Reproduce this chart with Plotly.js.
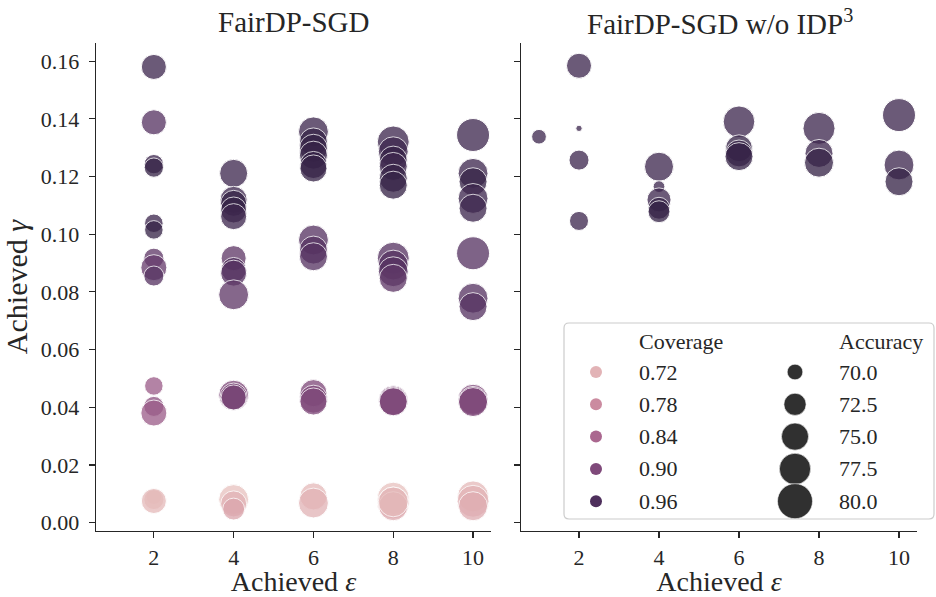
<!DOCTYPE html>
<html><head><meta charset="utf-8">
<script src="https://cdn.plot.ly/plotly-3.0.1.min.js"></script>
<style>html,body{margin:0;padding:0;background:#fff}#chart{width:936px;height:597px}</style>
</head><body><div id="chart"></div>
<script>
// ---- data: left panel (FairDP-SGD) ----
const leftEps = [2,2,2,2,2,2,2,2,2,2,2,2,2,2,2,
  4,4,4,4,4,4,4,4,4,4,4,4,4,4,4,
  6,6,6,6,6,6,6,6,6,6,6,6,6,6,
  8,8,8,8,8,8,8,8,8,8,8,8,8,8,8,8,8,
  10,10,10,10,10,10,10,10,10,10,10,10,10,10];
const leftGamma = [0.158,0.1388,0.1243,0.1231,0.1038,0.1015,0.0917,0.0884,0.0855,0.0474,0.0403,0.038,0.0090,0.0080,0.0075,
  0.1211,0.1119,0.1107,0.1084,0.1061,0.0917,0.0876,0.0865,0.079,0.0442,0.0437,0.0434,0.0080,0.0065,0.0047,
  0.1355,0.132,0.1298,0.1274,0.124,0.1228,0.098,0.0945,0.0922,0.0449,0.0428,0.0420,0.0091,0.0068,
  0.132,0.1286,0.1257,0.1235,0.1194,0.117,0.0917,0.0893,0.087,0.0847,0.0424,0.0421,0.0419,0.0085,0.0068,0.0057,0.0072,
  0.1344,0.1211,0.1182,0.1124,0.109,0.0934,0.0778,0.0749,0.0428,0.0422,0.0418,0.0091,0.0074,0.0057];
const leftCoverage = [0.98,0.95,0.98,0.99,0.98,0.99,0.94,0.93,0.95,0.86,0.88,0.86,0.70,0.70,0.71,
  0.98,0.98,0.99,0.99,0.98,0.94,0.96,0.95,0.94,0.90,0.91,0.91,0.70,0.72,0.74,
  0.98,0.99,0.99,0.99,0.99,0.99,0.95,0.95,0.95,0.90,0.90,0.90,0.71,0.72,
  0.98,0.98,0.99,0.98,0.99,0.99,0.95,0.95,0.95,0.94,0.90,0.90,0.90,0.70,0.72,0.73,0.71,
  0.98,0.98,0.99,0.98,0.98,0.95,0.95,0.95,0.90,0.90,0.90,0.71,0.72,0.73];
const leftAccuracy = [73.9,73.9,71.3,71.3,71.0,71.0,71.6,74.4,71.6,71.0,71.6,74.4,70.0,71.6,73.9,
  75.5,75.0,74.4,74.4,74.4,73.9,73.9,74.4,76.6,76.6,75.0,73.9,76.6,74.4,72.4,
  76.6,75.5,75.5,75.5,75.0,75.0,76.6,75.5,75.5,75.0,75.5,75.0,75.0,76.6,
  77.9,76.6,75.5,75.5,75.5,75.5,77.9,76.6,76.6,75.5,76.1,75.8,75.5,77.9,77.9,76.1,76.6,
  78.6,76.6,75.5,76.6,75.5,78.6,76.6,75.5,76.6,76.1,76.1,77.3,77.9,76.1];
// ---- data: right panel (FairDP-SGD w/o IDP^3) ----
const rightEps = [1,2,2,2,2,4,4,4,4,4,6,6,6,6,8,8,8,10,10,10];
const rightGamma = [0.1338,0.1584,0.1367,0.1257,0.1046,0.1234,0.1165,0.1119,0.109,0.1078,
  0.139,0.1298,0.128,0.1269,0.1367,0.128,0.1248,0.1413,0.124,0.1182];
const rightCoverage = [0.98,0.98,0.98,0.98,0.98,0.98,0.98,0.98,0.99,0.99,
  0.98,0.99,0.99,0.99,0.98,0.98,0.99,0.98,0.98,0.99];
const rightAccuracy = [69.7,73.9,67.9,71.6,71.2,76.1,68.9,73.4,72.4,72.4,
  77.7,74.9,74.9,75.5,78.0,75.5,76.1,78.6,76.6,75.5];
// ---- ticks / legend labels ----
const xTicks = [2,4,6,8,10];
const yTicks = [0,0.02,0.04,0.06,0.08,0.10,0.12,0.14,0.16];
const coverageLegend = [0.72,0.78,0.84,0.90,0.96];
const accuracyLegend = [70.0,72.5,75.0,77.5,80.0];

// ---- styling helpers ----
const FONT = 'Liberation Serif, Times New Roman, serif';
const INK = '#262626';
const CMIN = 0.678, CMAX = 1.002;
function cubehelix(x){
  const hue=0.8, rot=0.4, start=0;
  const a = hue*x*(1-x)/2, phi = 2*Math.PI*(start/3+rot*x);
  const c = Math.cos(phi), s = Math.sin(phi);
  const cl = v => Math.round(255*Math.max(0,Math.min(1,v)));
  return 'rgb('+cl(x+a*(-0.14861*c+1.78277*s))+','+cl(x+a*(-0.29227*c-0.90649*s))+','+cl(x+a*(1.97294*c))+')';
}
const colorscale = [];
for (let i=0;i<=20;i++){ const t=i/20; colorscale.push([t, cubehelix(0.85-0.7*t)]); }
const sizeOf = acc => Math.sqrt(Math.max(246 + 98*(acc-70), 30));

function panel(xs, ys, cov, acc, xa, ya){
  return {type:'scatter', mode:'markers', x:xs, y:ys, xaxis:xa, yaxis:ya, showlegend:false, hoverinfo:'skip',
    marker:{color:cov, colorscale:colorscale, cmin:CMIN, cmax:CMAX, showscale:false,
      size:acc.map(sizeOf), opacity:0.76, line:{color:'white', width:1}}};
}

// legend layout (aux axis in pixel-like units)
const LW = 372, LH = 198;
const rowY = i => 50 + i*32.3;
const legendCov = {type:'scatter', mode:'markers', xaxis:'x3', yaxis:'y3', showlegend:false, hoverinfo:'skip',
  x:coverageLegend.map(()=>33), y:coverageLegend.map((v,i)=>rowY(i)),
  marker:{color:coverageLegend, colorscale:colorscale, cmin:CMIN, cmax:CMAX, size:12, opacity:1, line:{width:0}}};
const legendAcc = {type:'scatter', mode:'markers', xaxis:'x3', yaxis:'y3', showlegend:false, hoverinfo:'skip',
  x:accuracyLegend.map(()=>232), y:accuracyLegend.map((v,i)=>rowY(i)),
  marker:{color:'#303030', size:accuracyLegend.map(sizeOf), opacity:1, line:{color:'white', width:0.6}}};

const annotations = [];
annotations.push({xref:'x3', yref:'y3', x:74, y:19, text:'Coverage', showarrow:false, xanchor:'left', yanchor:'middle', font:{family:FONT,size:22,color:INK}});
annotations.push({xref:'x3', yref:'y3', x:274, y:19, text:'Accuracy', showarrow:false, xanchor:'left', yanchor:'middle', font:{family:FONT,size:22,color:INK}});
coverageLegend.forEach((v,i)=>annotations.push({xref:'x3', yref:'y3', x:74, y:rowY(i), text:v.toFixed(2), showarrow:false, xanchor:'left', yanchor:'middle', font:{family:FONT,size:22,color:INK}}));
accuracyLegend.forEach((v,i)=>annotations.push({xref:'x3', yref:'y3', x:274, y:rowY(i), text:v.toFixed(1), showarrow:false, xanchor:'left', yanchor:'middle', font:{family:FONT,size:22,color:INK}}));
annotations.push({xref:'paper', yref:'paper', x:293/936, y:1-22/597, text:'FairDP-SGD', showarrow:false, xanchor:'center', yanchor:'middle', font:{family:FONT,size:29,color:INK}});
annotations.push({xref:'paper', yref:'paper', x:720/936, y:1-22/597, text:'FairDP-SGD w/o IDP<sup style="font-size:70%">3</sup>', showarrow:false, xanchor:'center', yanchor:'middle', font:{family:FONT,size:29,color:INK}});

const r = 5;
const boxPath = `M ${1+r},1 L ${LW-1-r},1 Q ${LW-1},1 ${LW-1},${1+r} L ${LW-1},${LH-1-r} Q ${LW-1},${LH-1} ${LW-1-r},${LH-1} L ${1+r},${LH-1} Q 1,${LH-1} 1,${LH-1-r} L 1,${1+r} Q 1,1 ${1+r},1 Z`;

const xBase = {range:[0.55,10.45], tickvals:xTicks, ticktext:xTicks.map(String), ticks:'outside', ticklen:6, tickwidth:1.2, tickcolor:INK,
  showline:true, linecolor:INK, linewidth:1.3, showgrid:false, zeroline:false, tickfont:{family:FONT,size:22,color:INK},
  title:{text:'Achieved <i>ε</i>', font:{family:FONT,size:28,color:INK}, standoff:4}};
const yBase = {range:[-0.0029,0.1663], tickvals:yTicks, ticktext:yTicks.map(v=>v.toFixed(2)), ticks:'outside', ticklen:6, tickwidth:1.2, tickcolor:INK,
  showline:true, linecolor:INK, linewidth:1.3, showgrid:false, zeroline:false, tickfont:{family:FONT,size:22,color:INK}};

const layout = {
  width:936, height:597, margin:{l:0,r:0,t:0,b:0}, paper_bgcolor:'white', plot_bgcolor:'rgba(0,0,0,0)',
  showlegend:false,
  xaxis: Object.assign({}, xBase, {domain:[96/936, 491/936], anchor:'y'}),
  yaxis: Object.assign({}, yBase, {domain:[1-531/597, 1-43/597], anchor:'x', ticklabelstandoff:5,
    title:{text:'Achieved <i>γ</i>', font:{family:FONT,size:30,color:INK}, standoff:10}}),
  xaxis2: Object.assign({}, xBase, {domain:[521/936, 917/936], anchor:'y2'}),
  yaxis2: Object.assign({}, yBase, {domain:[1-531/597, 1-43/597], anchor:'x2', showticklabels:false}),
  xaxis3: {domain:[563/936, 935/936], range:[0,LW], visible:false, anchor:'y3', fixedrange:true},
  yaxis3: {domain:[1-520/597, 1-322/597], range:[LH,0], visible:false, anchor:'x3', fixedrange:true},
  shapes:[{type:'path', xref:'x3', yref:'y3', path:boxPath, line:{color:'#cccccc', width:1.2}, fillcolor:'white', layer:'below'}],
  annotations: annotations
};

Plotly.newPlot('chart', [
  panel(leftEps, leftGamma, leftCoverage, leftAccuracy, 'x', 'y'),
  panel(rightEps, rightGamma, rightCoverage, rightAccuracy, 'x2', 'y2'),
  legendCov, legendAcc
], layout, {staticPlot:true, displayModeBar:false});
</script></body></html>
